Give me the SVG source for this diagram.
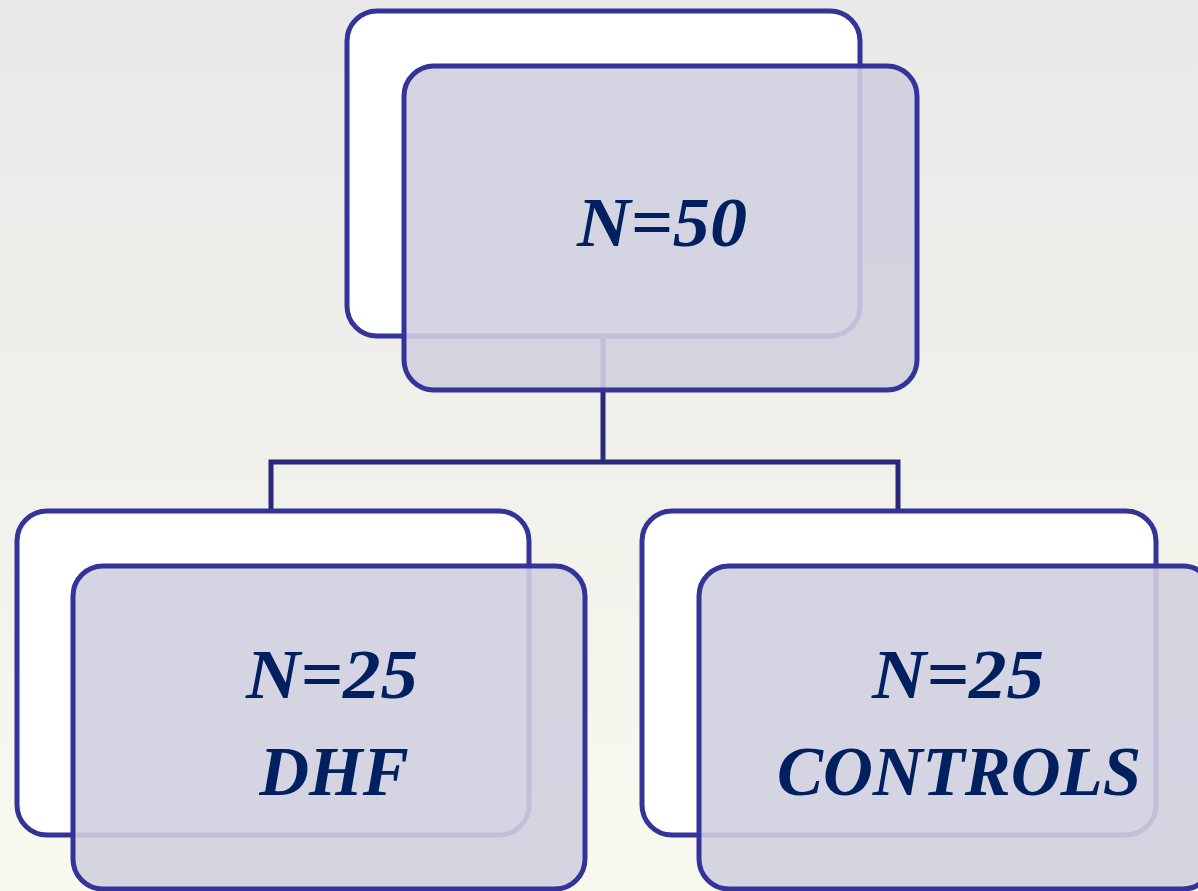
<svg xmlns="http://www.w3.org/2000/svg" width="1198" height="891" viewBox="0 0 1198 891">
<defs>
<linearGradient id="bg" x1="0" y1="0" x2="0" y2="1">
<stop offset="0" stop-color="#e8e8e8"/>
<stop offset="1" stop-color="#f8f9ee"/>
</linearGradient>
</defs>
<style>
.back{fill:#ffffff;stroke:#333399;stroke-width:5}
.front{fill:#d0cfdf;fill-opacity:0.9;stroke:#333399;stroke-width:5}
.conn{fill:none;stroke:#2b2a7a;stroke-width:5}
.lbl{font-family:"Liberation Serif","Times New Roman",serif;font-weight:bold;font-style:italic;font-size:69px;fill:#002060;text-anchor:middle}
</style>
<rect width="1198" height="891" fill="url(#bg)"/>
<g id="connectors">
<path class="conn" d="M603,336 V462 M271,510 V462 H898 V510"/>
</g>
<g id="node-top">
<rect class="back" x="347" y="11" width="513" height="325" rx="30"/>
<rect class="front" x="404" y="66" width="513" height="324" rx="30"/>
<text class="lbl" x="662" y="246" textLength="170" lengthAdjust="spacingAndGlyphs">N=50</text>
</g>
<g id="node-dhf">
<rect class="back" x="17" y="511" width="512" height="324" rx="30"/>
<rect class="front" x="73" y="566" width="512" height="323" rx="30"/>
<text class="lbl" x="332" y="698" textLength="172" lengthAdjust="spacingAndGlyphs">N=25</text>
<text class="lbl" x="334" y="795">DHF</text>
</g>
<g id="node-controls">
<rect class="back" x="642" y="511" width="514" height="324" rx="30"/>
<rect class="front" x="699" y="566" width="514" height="323" rx="30"/>
<text class="lbl" x="958" y="698" textLength="172" lengthAdjust="spacingAndGlyphs">N=25</text>
<text class="lbl" x="959" y="795">CONTROLS</text>
</g>
</svg>
